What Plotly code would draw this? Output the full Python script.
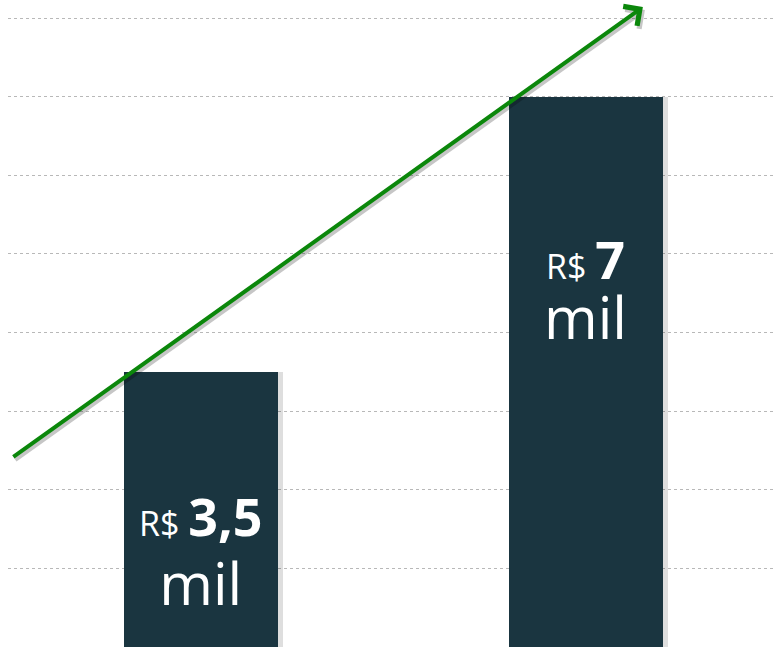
import plotly.graph_objects as go

categories = ["Antes", "Depois"]
values = [3.5, 7]
label_prefix = ["R$ ", "R$ "]
label_value = ["3,5", "7"]
label_unit = ["mil", "mil"]

BAR = "#1a3540"
GREEN = "#0b870b"

fig = go.Figure()
# soft shadow behind bars
fig.add_trace(go.Bar(x=[0, 1], y=values, width=0.4, offset=-0.2 + 0.012,
                     marker=dict(color="rgba(0,0,0,0.13)", line=dict(width=0)),
                     hoverinfo="skip", showlegend=False))
fig.add_trace(go.Bar(x=[0, 1], y=values, width=0.4, offset=-0.2,
                     marker=dict(color=BAR, line=dict(width=0)),
                     hoverinfo="skip", showlegend=False))

FONT = "Open Sans"
label_y = [0.29, 3.67]
base_size = [53, 46.5]   # controls line spacing (1.3 x size)
for i in range(2):
    txt = (f"<span style='font-size:34px'>{label_prefix[i]}</span>"
           f"<span style='font-size:52px'><b>{label_value[i]}</b></span><br>"
           f"<span style='font-size:58px'>{label_unit[i]}</span>")
    fig.add_annotation(x=i, y=label_y[i], xref="x", yref="y", text=txt,
                       showarrow=False, yanchor="bottom", xanchor="center", align="center",
                       font=dict(family=FONT, size=base_size[i], color="white"))

# trend arrow (shadow + arrow)
arrow_tail = (-0.491, 2.405)
arrow_tip = (1.148, 8.14)
for color, xs, ys in [("rgba(0,0,0,0.22)", 2, -3), (GREEN, 0, 0)]:
    fig.add_annotation(x=arrow_tip[0], y=arrow_tip[1], ax=arrow_tail[0], ay=arrow_tail[1],
                       xref="x", yref="y", axref="x", ayref="y",
                       showarrow=True, arrowhead=4, arrowsize=1.15, arrowwidth=4,
                       arrowcolor=color, text="", xshift=xs, yshift=ys)

fig.update_layout(
    width=773, height=647,
    margin=dict(l=8, r=0, t=0, b=0),
    paper_bgcolor="white", plot_bgcolor="white",
    barmode="overlay", bargap=0,
    showlegend=False,
    xaxis=dict(range=[-0.501, 1.486], showgrid=False, zeroline=False,
               showticklabels=False, ticks="", showline=False),
    yaxis=dict(range=[0, 8.23], dtick=1, tick0=0, showgrid=True,
               gridcolor="#b8b8b8", gridwidth=1, griddash="dot",
               zeroline=False, showticklabels=False, ticks="", showline=False),
)
fig.write_html("out.html", config={"displayModeBar": False},
               post_script="document.body.style.margin='0px';document.body.style.overflow='hidden';")
